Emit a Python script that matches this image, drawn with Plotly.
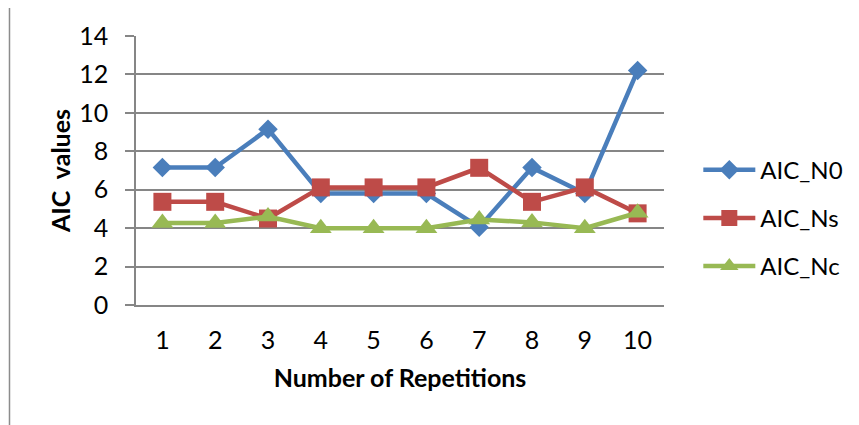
import plotly.graph_objects as go

repetitions = ["1", "2", "3", "4", "5", "6", "7", "8", "9", "10"]
aic_n0 = [7.15, 7.15, 9.15, 5.8, 5.8, 5.8, 4.05, 7.15, 5.8, 12.2]
aic_ns = [5.37, 5.37, 4.5, 6.12, 6.12, 6.12, 7.14, 5.37, 6.12, 4.77]
aic_nc = [4.27, 4.27, 4.6, 4.0, 4.0, 4.0, 4.45, 4.3, 4.0, 4.8]
y_ticks = [0, 2, 4, 6, 8, 10, 12, 14]

FONT = "Lato"
GRID = "#868686"
FS = 25

fig = go.Figure()
fig.add_trace(go.Scatter(
    x=repetitions, y=aic_n0, name="AIC_N0", mode="lines+markers",
    line=dict(color="#4A7EBB", width=4.5),
    marker=dict(symbol="diamond", size=15, color="#4A7EBB"),
    legendgroup="a"))
fig.add_trace(go.Scatter(
    x=repetitions, y=aic_ns, name="AIC_Ns", mode="lines+markers",
    line=dict(color="#BE4B48", width=4.5),
    marker=dict(symbol="square", size=18, color="#BE4B48"),
    legendgroup="b"))
fig.add_trace(go.Scatter(
    x=repetitions, y=aic_nc, name="AIC_Nc", mode="lines+markers",
    line=dict(color="#98B954", width=4.5),
    marker=dict(symbol="triangle-up", size=19, color="#98B954"),
    legendgroup="c"))

fig.update_layout(
    width=859, height=425,
    margin=dict(l=128, r=203, t=28, b=128),
    paper_bgcolor="white", plot_bgcolor="white",
    font=dict(family=FONT, size=FS, color="black"),
    showlegend=True,
    legend=dict(x=1.065, y=0.323, xanchor="left", yanchor="middle",
                itemwidth=52,
                font=dict(family=FONT, size=24, color="black"),
                tracegroupgap=14, bgcolor="rgba(0,0,0,0)"),
    xaxis=dict(
        type="category", categoryorder="array", categoryarray=repetitions,
        range=[-0.5, 9.5],
        showgrid=False, showline=True, linecolor=GRID, linewidth=1.5,
        ticks="", ticklabelstandoff=12,
        tickfont=dict(family=FONT, size=FS, color="black"),
        title=dict(text="<b>Number of Repetitions</b>", standoff=17,
                   font=dict(family=FONT, size=FS, color="black")),
        zeroline=False, fixedrange=True),
    yaxis=dict(
        range=[0, 14], tickvals=y_ticks,
        showgrid=True, gridcolor=GRID, gridwidth=1.5,
        showline=True, linecolor=GRID, linewidth=1.5,
        ticks="outside", ticklen=9, tickcolor=GRID, tickwidth=1.5,
        ticklabelstandoff=12,
        tickfont=dict(family=FONT, size=FS, color="black"),
        title=dict(text="<b>AIC  values</b>", standoff=1,
                   font=dict(family=FONT, size=FS, color="black")),
        zeroline=False, fixedrange=True),
    shapes=[dict(type="rect", xref="paper", yref="paper",
                 x0=-0.2396, x1=1.6, y0=-0.7, y1=1.1097,
                 line=dict(color="#8C8C8C", width=1.5),
                 fillcolor="rgba(0,0,0,0)", layer="below")],
)

fig.write_html("out.html")
